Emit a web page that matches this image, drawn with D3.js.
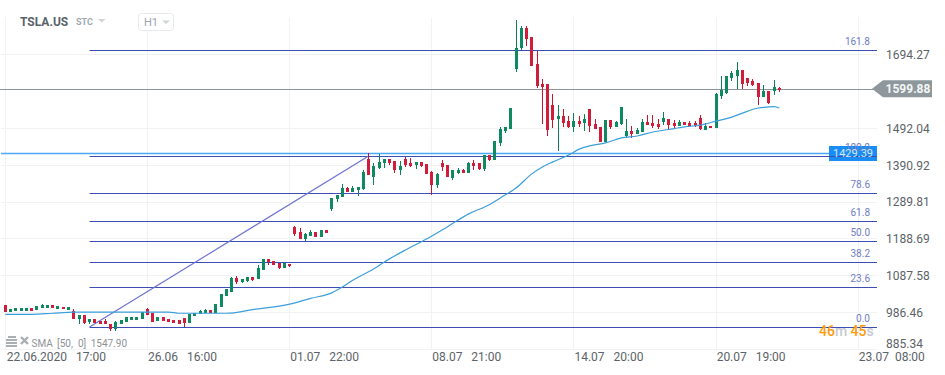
<!DOCTYPE html>
<html>
<head>
<meta charset="utf-8">
<style>
html,body{margin:0;padding:0;background:#fff;overflow:hidden}
svg{display:block;font-family:Roboto,sans-serif}
</style>
<script src="https://cdn.jsdelivr.net/npm/d3@7/dist/d3.min.js"></script>
</head>
<body>
<svg id="c" width="945" height="375"></svg>
<script>
const symbol = "TSLA.US", market = "STC", timeframe = "H1";

const opens = [
1006,987,990,990,990,997,992,997,998,1005,
995,1001,992,990,967,977,959,966,962,962,
953,939,953,960,965,965,968,994,983,962,
972,967,964,964,969,957,976,982,984,991,
983,1001,1031,1042,1080,1069,1072,1082,1078,1103,
1131,1126,1120,1108,1119,1219,1205,1187,1196,1205,
1193,1211,1270,1298,1303,1326,1317,1322,1324,1406,
1358,1383,1395,1406,1400,1377,1406,1395,1391,1398,
1392,1370,1336,1395,1389,1355,1368,1376,1369,1395,
1395,1379,1417,1405,1451,1484,1488,1654,1713,1767,
1742,1668,1613,1613,1555,1517,1525,1511,1495,1511,
1506,1544,1503,1495,1454,1514,1495,1503,1470,1484,
1476,1482,1508,1505,1503,1509,1516,1507,1498,1508,
1507,1506,1520,1487,1498,1493,1581,1587,1629,1635,
1651,1629,1621,1615,1578,1594,1594,1602];
const highs = [
1006,994,997,997,997,997,1003,1008,1005,1005,
1003,1001,1000,995,977,977,966,966,962,966,
953,962,964,972,972,972,986,997,983,972,
972,967,964,964,969,981,984,992,994,991,
1008,1035,1049,1083,1085,1076,1082,1082,1116,1131,
1131,1126,1120,1120,1119,1222,1216,1203,1212,1205,
1211,1211,1301,1307,1337,1329,1333,1329,1376,1424,
1395,1421,1406,1406,1400,1400,1411,1409,1398,1398,
1392,1374,1368,1403,1389,1376,1381,1379,1399,1404,
1395,1417,1417,1455,1494,1495,1547,1789,1772,1772,
1742,1704,1627,1613,1585,1555,1544,1525,1533,1525,
1530,1544,1517,1495,1514,1514,1511,1550,1517,1497,
1492,1516,1528,1528,1517,1536,1516,1513,1513,1508,
1512,1512,1528,1505,1498,1587,1635,1635,1649,1673,
1651,1629,1627,1616,1610,1594,1624,1605];
const lows = [
987,987,990,990,990,990,992,997,998,998,
995,994,992,967,953,954,954,955,954,954,
934,934,953,960,965,965,968,979,960,962,
962,960,957,954,944,957,976,982,984,984,
983,1001,1031,1042,1064,1066,1070,1071,1078,1103,
1116,1116,1104,1108,1110,1196,1188,1182,1196,1193,
1193,1204,1265,1290,1303,1317,1317,1306,1322,1364,
1336,1380,1383,1390,1369,1364,1386,1384,1380,1385,
1366,1309,1328,1375,1358,1350,1366,1369,1369,1377,
1377,1375,1401,1405,1443,1478,1488,1646,1706,1717,
1663,1602,1503,1470,1492,1429,1495,1492,1481,1495,
1485,1481,1489,1454,1454,1489,1495,1500,1465,1465,
1476,1482,1500,1493,1488,1500,1489,1491,1498,1501,
1496,1495,1487,1487,1491,1493,1572,1585,1621,1598,
1598,1607,1608,1555,1577,1558,1584,1591];
const closes = [
987,994,997,997,997,990,1003,1006,1005,998,
1003,994,1000,967,977,957,966,955,954,954,
940,959,964,972,972,972,986,979,960,972,
962,960,957,954,956,981,984,989,991,984,
1008,1035,1049,1079,1069,1076,1082,1074,1107,1131,
1123,1116,1107,1120,1113,1201,1188,1201,1206,1193,
1211,1204,1301,1307,1326,1317,1326,1329,1371,1364,
1387,1398,1406,1396,1377,1387,1390,1388,1398,1388,
1366,1336,1366,1386,1358,1376,1376,1369,1395,1388,
1380,1417,1405,1455,1489,1495,1547,1711,1767,1737,
1663,1607,1605,1486,1515,1525,1506,1495,1511,1503,
1517,1497,1489,1454,1514,1495,1508,1550,1484,1476,
1486,1508,1500,1498,1494,1520,1500,1498,1508,1501,
1498,1498,1490,1498,1491,1585,1596,1635,1643,1651,
1612,1615,1610,1578,1594,1562,1605,1596];

const smaIndex = [0,5,9,13,31,33,42,47,54,58,62,64,66,70,72,76,80,84,88,92,94,97,100,102,104,107,109,111,114,117,120,123,126,129,132,135,138,140,143,145,146,147];
const smaValues = [980,980,983,986,986,983,983,993,1008,1024,1039,1055,1074,1105,1124,1157,1187,1221,1256,1282,1300,1327,1366,1385,1399,1418,1434,1443,1451,1465,1470,1481,1488,1495,1500,1511,1522,1533,1547,1550,1551,1547];
const smaLabel = ["SMA","[50,","0]","1547.90"];

const priceTicks = [1694.27,1492.04,1390.92,1289.81,1188.69,1087.58,986.46,885.34];
const timeIndex = [0,27,54,81,108,135,162];
const timeLabels = ["22.06.2020\u00a0\u00a0\u00a017:00","26.06\u00a0\u00a0\u00a016:00","01.07\u00a0\u00a0\u00a022:00","08.07\u00a0\u00a0\u00a021:00","14.07\u00a0\u00a0\u00a020:00","20.07\u00a0\u00a0\u00a019:00","23.07\u00a0\u00a008:00"];

const fibRatios = ["0.0","23.6","38.2","50.0","61.8","78.6","100.0","161.8"];
const fibPrices = [945.2,1056.1,1124.7,1180.2,1235.6,1314.5,1415.1,1705.5];
const fibStartIndex = 16, fibEndIndex = 69;

const lastPrice = 1599.88, lastLabel = "1599.88";
const alertPrice = 1422, alertLabel = "1429.39";
const countdown = [["46","o"],["m ","g"],["45","o"],["s","g"]];

const plotRight = 877;
const x = d3.scaleLinear().domain([0,162]).range([5.3,858.3]);
const y = d3.scaleLinear().domain([885.34,1694.27]).range([348.8,54.4]);
const svg = d3.select("#c");

const gridC = "#f0f2f4";
const gGrid = svg.append("g");
gGrid.selectAll("line.h").data(priceTicks).join("line")
  .attr("x1",1).attr("x2",plotRight)
  .attr("y1",d=>Math.round(y(d))+.5).attr("y2",d=>Math.round(y(d))+.5)
  .attr("stroke",gridC);
gGrid.selectAll("line.v").data(timeIndex).join("line")
  .attr("y1",18).attr("y2",349)
  .attr("x1",d=>Math.floor(x(d))+.5).attr("x2",d=>Math.floor(x(d))+.5)
  .attr("stroke",gridC);

// axes
const yAxis = d3.axisRight(y).tickValues(priceTicks).tickFormat(d3.format(".2f")).tickSize(0).tickPadding(0);
const gy = svg.append("g").attr("transform","translate(886,0)").call(yAxis);
gy.select(".domain").remove();
gy.selectAll("text").attr("font-family","Roboto").attr("font-size",12).attr("fill","#5c6368")
  .attr("dy",(d)=>d===885.34?"-0.1em":"0.35em");
const xAxis = d3.axisBottom(x).tickValues(timeIndex).tickFormat((d,i)=>timeLabels[i]).tickSize(0).tickPadding(0);
const gx = svg.append("g").attr("transform","translate(0,352)").call(xAxis);
gx.select(".domain").remove();
gx.selectAll("text").attr("font-family","Roboto").attr("font-size",12).attr("fill","#5c6368")
  .attr("text-anchor","start").attr("dx",(d)=>d===0?"1px":"0").attr("y",0).attr("dy","0.72em");

// alert line
svg.append("line").attr("x1",1).attr("x2",830)
  .attr("y1",y(alertPrice)).attr("y2",y(alertPrice))
  .attr("stroke","#4aa8f6").attr("stroke-width",1.5);

// alert label
svg.append("rect").attr("x",829).attr("y",y(alertPrice)-7.5).attr("width",48).attr("height",15).attr("fill","#1a8df5");

// fib
const gF = svg.append("g");
gF.selectAll("line").data(fibPrices).join("line")
  .attr("x1",x(fibStartIndex)).attr("x2",plotRight)
  .attr("y1",d=>Math.round(y(d))+.5).attr("y2",d=>Math.round(y(d))+.5)
  .attr("stroke","#3c4db3").attr("stroke-width",1.2);
gF.append("line")
  .attr("x1",x(fibStartIndex)).attr("x2",x(fibEndIndex))
  .attr("y1",y(fibPrices[0])).attr("y2",y(fibPrices[6]))
  .attr("stroke","#6e72d2").attr("stroke-width",1.2);
gF.selectAll("text").data(fibRatios).join("text")
  .attr("x",870).attr("y",(d,i)=>Math.round(y(fibPrices[i]))-5)
  .attr("text-anchor","end").attr("font-size",10).attr("fill","#6f7cc4")
  .text(d=>d);

svg.append("text").attr("x",853).attr("y",y(alertPrice)+3.5).attr("text-anchor","middle")
  .attr("font-size",11).attr("fill","#d5e6f5").text(alertLabel);

// last price
svg.append("line").attr("x1",0).attr("x2",875)
  .attr("y1",Math.round(y(lastPrice))+.5).attr("y2",Math.round(y(lastPrice))+.5)
  .attr("stroke","#8c9599");

// candles
const idx = d3.range(opens.length);
const up = i=>closes[i]>opens[i];
const gC = svg.append("g").attr("shape-rendering","crispEdges");
gC.selectAll("line").data(idx).join("line")
  .attr("x1",i=>Math.floor(x(i))+.5).attr("x2",i=>Math.floor(x(i))+.5)
  .attr("y1",i=>y(highs[i])).attr("y2",i=>y(lows[i]))
  .attr("stroke",i=>up(i)?"#0d7f57":"#c8152f");
gC.selectAll("rect").data(idx).join("rect")
  .attr("x",i=>Math.floor(x(i))-1).attr("width",3)
  .attr("y",i=>Math.round(y(Math.max(opens[i],closes[i]))))
  .attr("height",i=>Math.max(2,Math.round(y(Math.min(opens[i],closes[i])))-Math.round(y(Math.max(opens[i],closes[i])))))
  .attr("fill",i=>up(i)?"#0f8a60":"#d01d3a");

// sma
const smaLine = d3.line().x((d,i)=>x(smaIndex[i])).y(d=>y(d)).curve(d3.curveMonotoneX);
svg.append("path").attr("d",smaLine(smaValues)).attr("fill","none")
  .attr("stroke","#3b9fd9").attr("stroke-width",1.2);

// price tag
const tagY = y(lastPrice);
svg.append("path").attr("fill","#8e979b")
  .attr("d",`M872,${tagY} L883,${tagY-8.5} H932 V${tagY+8.5} H883 Z`);
svg.append("text").attr("x",908).attr("y",tagY+4.2).attr("text-anchor","middle")
  .attr("font-size",12).attr("font-weight",700).attr("fill","#f4f6f7").text(lastLabel);

// header
svg.append("text").attr("x",20).attr("y",26).attr("font-size",12).attr("font-weight",700).attr("fill","#59626a").text(symbol);
svg.append("text").attr("x",76).attr("y",25).attr("font-size",9).attr("font-weight",700).attr("fill","#a0aab0").text(market);
svg.append("path").attr("d","M98,19 H105.5 L101.7,22.5 Z").attr("fill","#cfd4d8");
svg.append("rect").attr("x",138.5).attr("y",13.5).attr("width",35).attr("height",17).attr("rx",3).attr("fill","#fff").attr("stroke","#e8eaec");
svg.append("text").attr("x",144).attr("y",26).attr("font-size",11).attr("fill","#9aa4aa").text(timeframe);
svg.append("path").attr("d","M162,20.5 H170 L166,24 Z").attr("fill","#cfd4d8");

// indicator legend
const gL = svg.append("g").attr("fill","#a9afb3");
[336,339,342,345].forEach((yy,k)=>gL.append("rect").attr("x",k===0?8:6).attr("y",yy).attr("width",k===0?8:11).attr("height",2));
gL.append("path").attr("d","M21,337 L28,344 M28,337 L21,344").attr("stroke","#a9afb3").attr("stroke-width",2.4).attr("fill","none");
const smaX = [31.5,57,78,90.7];
svg.append("g").selectAll("text").data(smaLabel).join("text")
  .attr("x",(d,i)=>smaX[i]).attr("y",347).attr("font-size",10).attr("fill","#8e9397").text(d=>d);

// countdown
const cd = svg.append("text").attr("x",819).attr("y",336).attr("font-size",14).attr("font-weight",500);
countdown.forEach(p=>cd.append("tspan").attr("fill",p[1]==="o"?"#ff9a0a":"#c6cace").attr("xml:space","preserve").text(p[0]==="m "?"m\u00a0":p[0]));
</script>
</body>
</html>
